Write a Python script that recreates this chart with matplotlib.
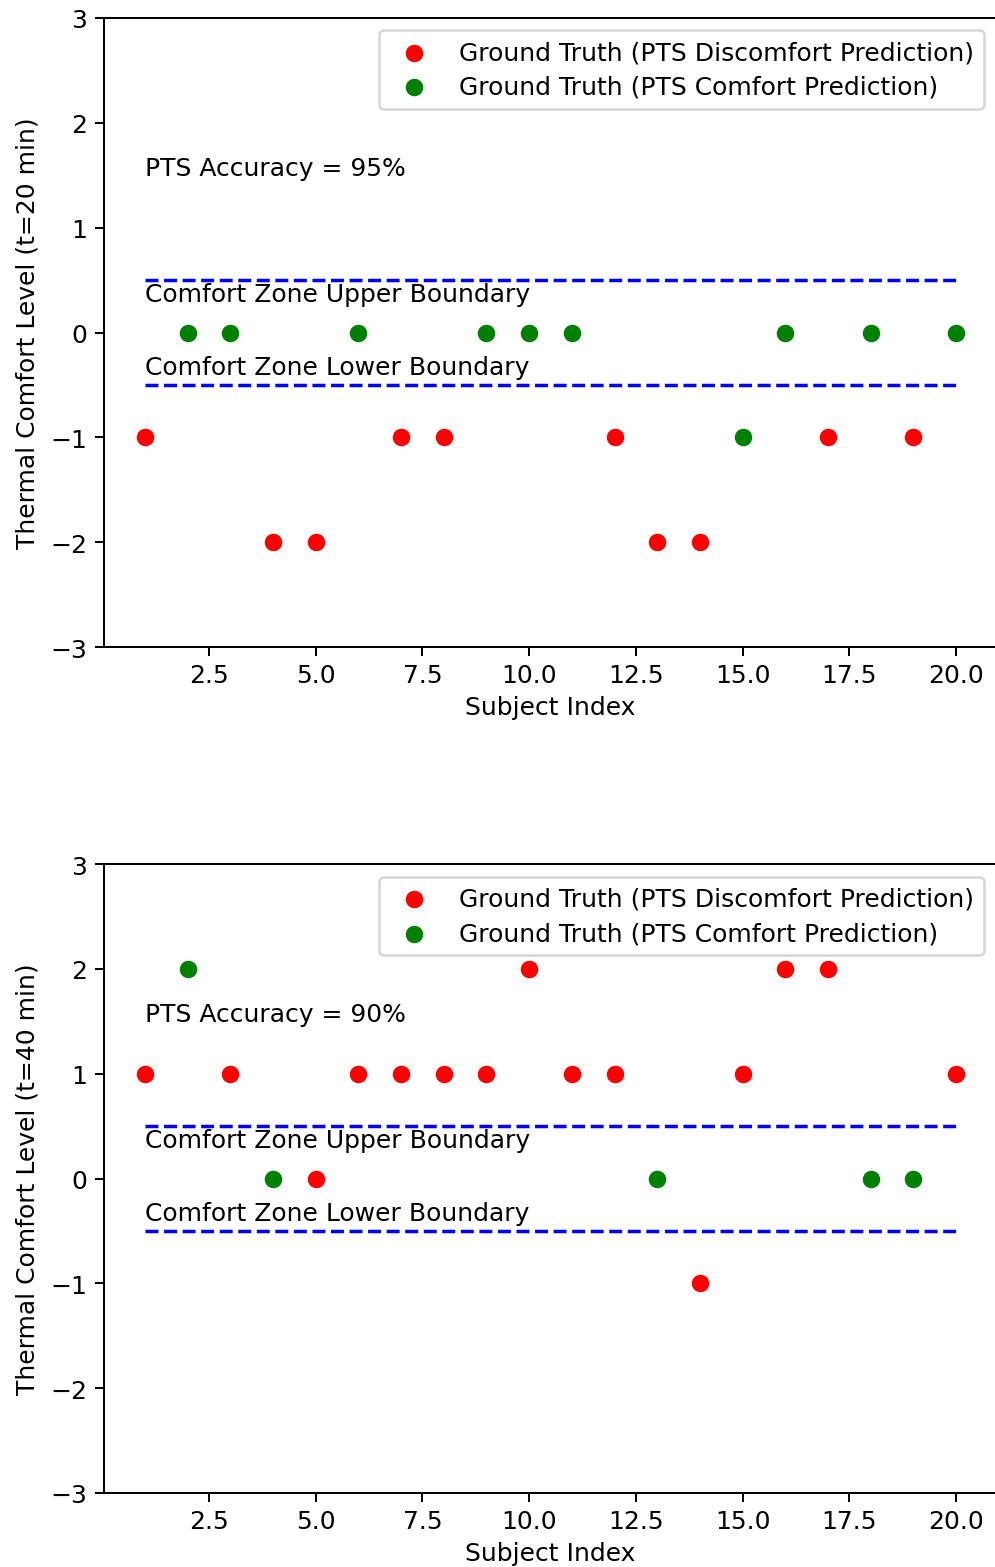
import matplotlib
matplotlib.use('Agg')
import matplotlib.pyplot as plt
import numpy as np

# subject index 1..20
subjects = list(range(1, 21))

# ground truth comfort votes at t=20 and t=40 minutes
votes_20 = [-1, 0, 0, -2, -2, 0, -1, -1, 0, 0, 0, -1, -2, -2, -1, 0, -1, 0, -1, 0]
votes_40 = [1, 2, 1, 0, 0, 1, 1, 1, 1, 2, 1, 1, 0, -1, 1, 2, 2, 0, 0, 1]

# PTS prediction: 1 = comfort, 0 = discomfort
pred_20 = [0, 1, 1, 0, 0, 1, 0, 0, 1, 1, 1, 0, 0, 0, 1, 1, 0, 1, 0, 1]
pred_40 = [0, 1, 0, 1, 0, 0, 0, 0, 0, 0, 0, 0, 1, 0, 0, 0, 0, 1, 1, 0]

accuracy = ['95%', '90%']
times = [20, 40]
upper, lower = 0.5, -0.5

dpi = 180
fig = plt.figure(figsize=(995 / dpi, 1568 / dpi), dpi=dpi)
positions = [[0.1049, 0.5867, 0.8967, 0.4012], [0.1049, 0.0472, 0.8967, 0.4011]]

for pos, votes, pred, acc, t in zip(positions, [votes_20, votes_40], [pred_20, pred_40], accuracy, times):
    ax = fig.add_axes(pos)
    x = np.array(subjects)
    v = np.array(votes)
    p = np.array(pred)
    ax.scatter(x[p == 0], v[p == 0], c='red', label='Ground Truth (PTS Discomfort Prediction)')
    ax.scatter(x[p == 1], v[p == 1], c='green', label='Ground Truth (PTS Comfort Prediction)')
    ax.plot([subjects[0], subjects[-1]], [upper, upper], 'b--', lw=1.4)
    ax.plot([subjects[0], subjects[-1]], [lower, lower], 'b--', lw=1.4)
    ax.text(1, 0.3, 'Comfort Zone Upper Boundary')
    ax.text(1, -0.4, 'Comfort Zone Lower Boundary')
    ax.text(1, 1.5, 'PTS Accuracy = ' + acc)
    ax.set_ylim(-3, 3)
    ax.set_yticks(range(-3, 4))
    # same x range as the default 5% margins, pinned so both panels agree
    ax.set_xlim(0.05, 20.95)
    ax.set_xticks([2.5, 5.0, 7.5, 10.0, 12.5, 15.0, 17.5, 20.0])
    ax.tick_params(axis='x', pad=3)
    ax.set_xlabel('Subject Index', labelpad=3)
    ax.set_ylabel('Thermal Comfort Level (t=%d min)' % t)
    # right edge sits past the figure border
    ax.spines['right'].set_visible(False)
    ax.legend(loc='upper right', scatterpoints=1, labelspacing=0.42)

fig.savefig('out.png', dpi=dpi)
